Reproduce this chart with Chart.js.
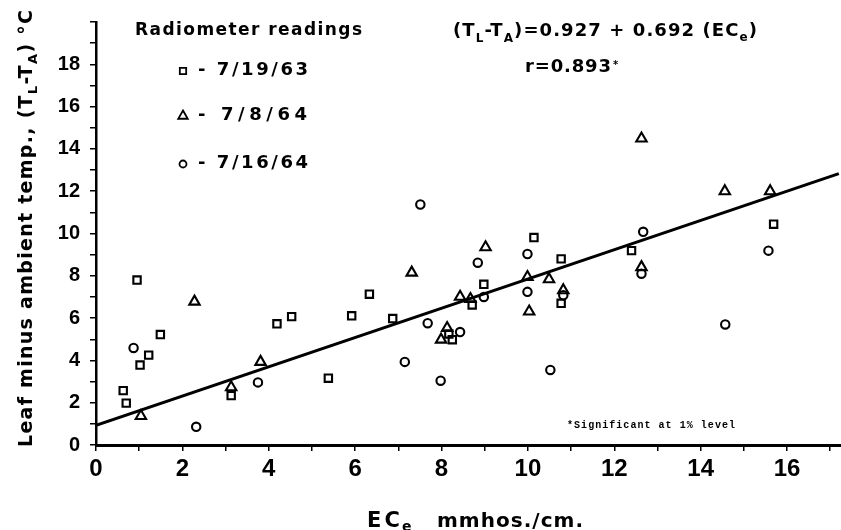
<!DOCTYPE html>
<html><head><meta charset="utf-8">
<script src="https://cdn.jsdelivr.net/npm/chart.js@4.4.1/dist/chart.umd.min.js"></script>
<style>html,body{margin:0;padding:0;background:#fff}</style>
</head><body>
<canvas id="c" width="841" height="530"></canvas>
<script>
// ---- data ----
const squareX = [0.95, 0.63, 0.70, 1.02, 1.22, 1.49, 3.13, 4.19, 4.53, 5.38, 5.92, 6.33, 6.87, 8.25, 8.17, 8.71, 8.98, 10.14, 10.77, 10.77, 12.40, 15.69];
const squareY = [7.80, 2.57, 1.98, 3.78, 4.25, 5.22, 2.34, 5.73, 6.07, 3.16, 6.11, 7.13, 5.98, 4.98, 5.25, 6.62, 7.60, 9.81, 8.80, 6.70, 9.19, 10.44];
const triangleX = [1.04, 2.28, 3.13, 3.81, 7.31, 8.43, 8.67, 9.02, 9.99, 10.49, 10.82, 10.03, 7.99, 8.13, 12.63, 14.56, 15.61, 12.63];
const triangleY = [1.37, 6.78, 2.73, 3.93, 8.15, 7.01, 6.90, 9.35, 7.94, 7.84, 7.32, 6.31, 4.98, 5.53, 14.49, 12.00, 12.00, 8.41];
const circleX = [0.87, 2.32, 3.75, 7.15, 7.68, 7.98, 7.51, 8.84, 9.99, 9.99, 8.98, 8.43, 10.52, 10.82, 12.67, 12.63, 14.57, 15.57];
const circleY = [4.59, 0.86, 2.96, 3.93, 5.76, 3.04, 11.37, 8.62, 9.03, 7.24, 7.00, 5.34, 3.55, 7.08, 10.08, 8.10, 5.70, 9.19];
const fitX = [0, 17.2];
const fitY = [0.93, 12.83];
const xTickLabels = [0, 2, 4, 6, 8, 10, 12, 14, 16];
const yTickLabels = [0, 2, 4, 6, 8, 10, 12, 14, 16, 18];
const seriesNames = ['7/19/63', '7/8/64', '7/16/64'];

const FONT = "'DejaVu Sans', 'Liberation Sans', sans-serif";
const TICKFONT = "'Liberation Sans', Arial, sans-serif";
const pts = (xs, ys) => xs.map((x, i) => ({x, y: ys[i]}));

function setFont(ctx, size, fam) { ctx.font = 'bold ' + size + 'px ' + (fam || FONT); }
function run(ctx, pieces, x, y, target, fam) {
  let nat = 0, n = 0; const ws = [];
  ctx.letterSpacing = '0px';
  for (const p of pieces) { setFont(ctx, p.s, fam); const w = ctx.measureText(p.t).width; ws.push(w); nat += w; n += p.t.length; }
  const ls = target ? (target - nat) / Math.max(1, n - 1) : 0;
  let cx = x;
  pieces.forEach((p, i) => {
    setFont(ctx, p.s, fam);
    ctx.letterSpacing = ls + 'px';
    ctx.fillText(p.t, cx, y + (p.dy || 0));
    cx += ws[i] + ls * p.t.length;
  });
  ctx.letterSpacing = '0px';
}

const textPlugin = {
  id: 'texts',
  afterDraw(chart) {
    const ctx = chart.ctx;
    ctx.save();
    ctx.fillStyle = '#000';
    ctx.textAlign = 'left';
    ctx.textBaseline = 'alphabetic';
    // y-axis title (rotated)
    ctx.save();
    ctx.translate(32, 447);
    ctx.rotate(-Math.PI / 2);
    run(ctx, [{t: 'Leaf minus ambient temp., (T', s: 19}, {t: 'L', s: 13, dy: 5}, {t: '-T', s: 19}, {t: 'A', s: 13, dy: 5}, {t: ') °C', s: 19}], 0, 0, 437);
    ctx.restore();
    // x-axis title
    run(ctx, [{t: 'EC', s: 21}], 367, 527, 33);
    run(ctx, [{t: 'e', s: 14}], 402, 531, 0);
    run(ctx, [{t: 'mmhos./cm.', s: 20}], 437, 527, 146);
    // legend block
    run(ctx, [{t: 'Radiometer readings', s: 17}], 135, 35, 227);
    run(ctx, [{t: '- ' + seriesNames[0], s: 18}], 198, 75, 110);
    run(ctx, [{t: '- ' + seriesNames[1], s: 18}], 198, 120, 109);
    run(ctx, [{t: '- ' + seriesNames[2], s: 18}], 198, 168, 110);
    ctx.strokeStyle = '#000';
    ctx.fillStyle = 'rgba(0,0,0,0)';
    ctx.lineWidth = 1.8;
    Chart.helpers.drawPoint(ctx, {pointStyle: 'rect', radius: 4.5, rotation: 0, borderWidth: 1.8}, 183, 71);
    Chart.helpers.drawPoint(ctx, {pointStyle: 'triangle', radius: 5.5, rotation: 0, borderWidth: 1.8}, 183, 116);
    Chart.helpers.drawPoint(ctx, {pointStyle: 'circle', radius: 3.5, rotation: 0, borderWidth: 1.8}, 183, 164);
    ctx.fillStyle = '#000';
    // equation
    run(ctx, [{t: '(T', s: 18}, {t: 'L', s: 12, dy: 6}, {t: '-T', s: 18}, {t: 'A', s: 12, dy: 6}, {t: ')=0.927 + 0.692 (EC', s: 18}, {t: 'e', s: 12, dy: 5}, {t: ')', s: 18}], 453, 36, 304);
    run(ctx, [{t: 'r=0.893', s: 18}], 525, 72, 86);
    run(ctx, [{t: '*', s: 10}], 613, 68, 0);
    // significance note
    run(ctx, [{t: '*Significant at 1% level', s: 10}], 567, 428, 168, "'Liberation Mono', 'DejaVu Sans Mono', monospace");
    ctx.restore();
  }
};

const markerBase = {borderColor: '#000', backgroundColor: 'rgba(0,0,0,0)', borderWidth: 2.1, showLine: false};

new Chart(document.getElementById('c'), {
  type: 'scatter',
  data: {
    datasets: [
      {type: 'line', data: pts(fitX, fitY), borderColor: '#000', borderWidth: 3, pointRadius: 0, fill: false, tension: 0, order: 5},
      Object.assign({label: seriesNames[0], data: pts(squareX, squareY), pointStyle: 'rect', pointRadius: 5.2}, markerBase),
      Object.assign({label: seriesNames[1], data: pts(triangleX, triangleY), pointStyle: 'triangle', pointRadius: 6}, markerBase),
      Object.assign({label: seriesNames[2], data: pts(circleX, circleY), pointStyle: 'circle', pointRadius: 4.2}, markerBase)
    ]
  },
  options: {
    responsive: false,
    devicePixelRatio: 1,
    animation: false,
    layout: {autoPadding: false, padding: {top: 17, right: 0, bottom: 0, left: 0}},
    plugins: {legend: {display: false}, tooltip: {enabled: false}},
    scales: {
      x: {
        type: 'linear', min: 0, max: 17.25, position: 'bottom',
        afterFit(s) { s.height = 85; s.paddingRight = 0; },
        grid: {drawOnChartArea: false, drawTicks: true, tickLength: 6, color: '#000', lineWidth: 1.5},
        border: {display: true, color: '#000', width: 3},
        ticks: {stepSize: 1, autoSkip: false, maxRotation: 0, includeBounds: false, padding: 4, color: '#000',
          font: {family: TICKFONT, size: 24, weight: 'bold'},
          callback: v => xTickLabels.includes(v) ? String(v) : ''}
      },
      y: {
        type: 'linear', min: 0, max: 20,
        afterFit(s) { s.width = 96; },
        grid: {drawOnChartArea: false, drawTicks: true, tickLength: 6, color: '#000', lineWidth: 1.5},
        border: {display: true, color: '#000', width: 2.5},
        ticks: {stepSize: 1, autoSkip: false, includeBounds: false, padding: 10, color: '#000',
          font: {family: TICKFONT, size: 20, weight: 'bold'},
          callback: v => yTickLabels.includes(v) ? String(v) : ''}
      }
    }
  },
  plugins: [textPlugin]
});
</script>
</body></html>
